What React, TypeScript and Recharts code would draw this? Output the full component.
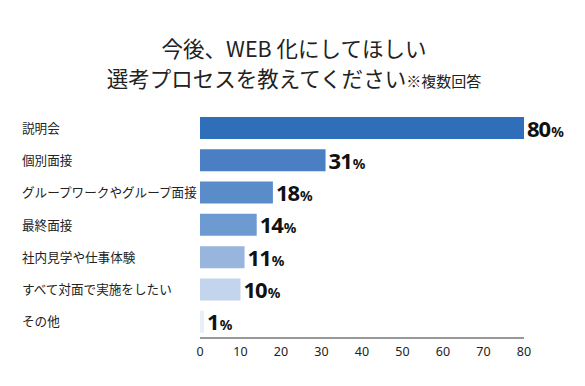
import { BarChart, Bar, XAxis, YAxis, Cell, LabelList } from 'recharts';

const categories = [
    '説明会',
    '個別面接',
    'グループワークやグループ面接',
    '最終面接',
    '社内見学や仕事体験',
    'すべて対面で実施をしたい',
    'その他'
];
const percents = [80, 31, 18, 14, 11, 10, 1];
const barColors = ['#2f6eb9', '#4a80c3', '#5a8cc9', '#6d9ad0', '#97b5dd', '#c2d5ec', '#e7eff8'];
const xTicks = [0, 10, 20, 30, 40, 50, 60, 70, 80];

const data = categories.map((name, i) => ({ name, value: percents[i] }));

const jpFont = '"Noto Sans CJK JP", "Noto Sans", sans-serif';

const CategoryTick = (props: any) => {
    const { y, payload } = props;
    return (
        <text x={22} y={y} dy={4.5} textAnchor="start" fontSize={12.6} fill="#222" fontFamily={jpFont}>
            {payload.value}
        </text>
    );
};

const ValueLabel = (props: any) => {
    const { x, y, width, height, value } = props;
    return (
        <text x={x + width + 3} y={y + height / 2 + 8.5} fontFamily='"Noto Sans", sans-serif' fill="#111">
            <tspan fontSize={22} fontWeight="bold" letterSpacing={-1}>{value}</tspan>
            <tspan fontSize={14} fontWeight="bold" dx={1}>%</tspan>
        </text>
    );
};

export default function App() {
    return (
        <div style={{ position: 'fixed', left: 0, top: 0, width: 585, height: 386, background: '#fff' }}>
            <div
                style={{
                    position: 'absolute',
                    left: 0,
                    top: 33,
                    width: 588,
                    textAlign: 'center',
                    fontFamily: jpFont,
                    color: '#222',
                    fontSize: 21.5,
                    lineHeight: '30px'
                }}
            >
                <div>今後、WEB 化にしてほしい</div>
                <div>
                    選考プロセスを教えてください<span style={{ fontSize: 15 }}>※複数回答</span>
                </div>
            </div>
            <BarChart
                width={585}
                height={386}
                data={data}
                layout="vertical"
                margin={{ top: 112, right: 61, bottom: 18, left: 0 }}
                barCategoryGap={10}
            >
                <XAxis
                    type="number"
                    domain={[0, 80]}
                    ticks={xTicks}
                    tickLine={false}
                    axisLine={{ stroke: '#333' }}
                    height={30}
                    tick={{ fontSize: 12.5, fill: '#222', fontFamily: '"Noto Sans", sans-serif' }}
                    tickMargin={3}
                />
                <YAxis
                    type="category"
                    dataKey="name"
                    width={200}
                    axisLine={false}
                    tickLine={false}
                    tick={<CategoryTick />}
                />
                <Bar dataKey="value" barSize={22} isAnimationActive={false}>
                    {data.map((d, i) => (
                        <Cell key={d.name} fill={barColors[i]} />
                    ))}
                    <LabelList dataKey="value" content={<ValueLabel />} />
                </Bar>
            </BarChart>
        </div>
    );
}
